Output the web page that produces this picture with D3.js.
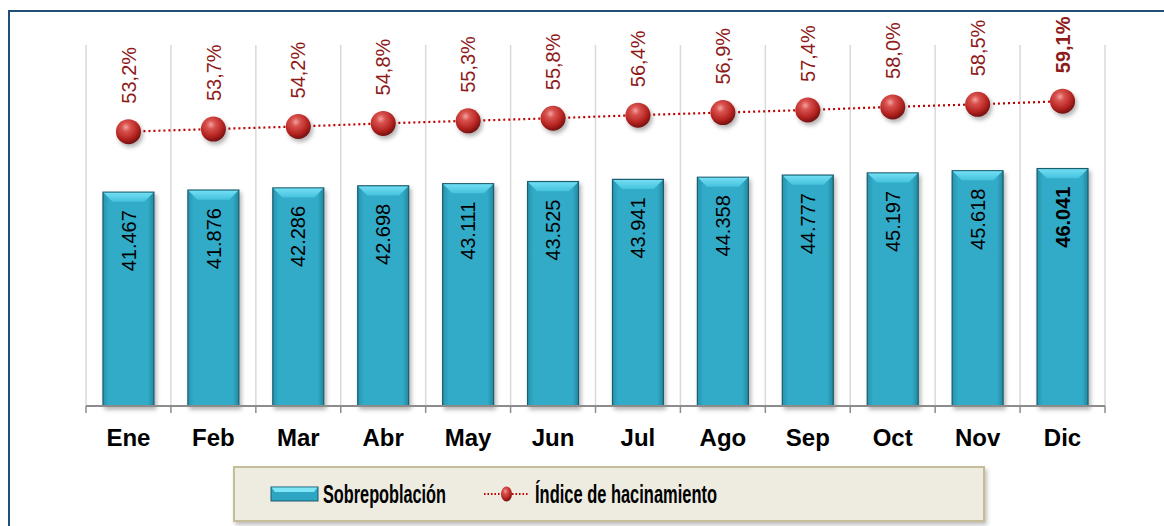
<!DOCTYPE html>
<html lang="es">
<head>
<meta charset="utf-8">
<script src="https://cdn.jsdelivr.net/npm/d3@7"></script>
<style>
  html, body { margin: 0; padding: 0; background: #ffffff; }
  svg { display: block; }
</style>
</head>
<body>
<script>
// Monthly overpopulation and crowding index
const months = ["Ene", "Feb", "Mar", "Abr", "May", "Jun", "Jul", "Ago", "Sep", "Oct", "Nov", "Dic"];
const sobrepoblacion = [41467, 41876, 42286, 42698, 43111, 43525, 43941, 44358, 44777, 45197, 45618, 46041];
const hacinamiento = [53.2, 53.7, 54.2, 54.8, 55.3, 55.8, 56.4, 56.9, 57.4, 58.0, 58.5, 59.1];
const seriesNames = ["Sobrepoblación", "Índice de hacinamiento"];

const W = 1164, H = 526;
const plot = { left: 86, right: 1105, top: 45, bottom: 406 };

const es = d3.formatLocale({ decimal: ",", thousands: ".", grouping: [3], currency: ["", "€"] });
const fmtInt = es.format(",d");
const fmtPct = v => es.format(".1f")(v) + "%";

const svg = d3.select("body").append("svg").attr("width", W).attr("height", H);
const defs = svg.append("defs");

// Bar gradients (bevelled cyan bars)
const bodyGrad = defs.append("linearGradient").attr("id", "barBody").attr("x1", 0).attr("x2", 1).attr("y1", 0).attr("y2", 0);
bodyGrad.append("stop").attr("offset", "0%").attr("stop-color", "#2894ae");
bodyGrad.append("stop").attr("offset", "12%").attr("stop-color", "#31abc8");
bodyGrad.append("stop").attr("offset", "88%").attr("stop-color", "#31abc8");
bodyGrad.append("stop").attr("offset", "100%").attr("stop-color", "#23889f");

const topGrad = defs.append("linearGradient").attr("id", "barTop").attr("x1", 0).attr("x2", 0).attr("y1", 0).attr("y2", 1);
topGrad.append("stop").attr("offset", "0%").attr("stop-color", "#72def3");
topGrad.append("stop").attr("offset", "100%").attr("stop-color", "#45c2dd");

// Sphere marker gradient
const sphere = defs.append("radialGradient").attr("id", "sphere").attr("cx", "40%").attr("cy", "32%").attr("r", "70%");
sphere.append("stop").attr("offset", "0%").attr("stop-color", "#f3a3a0");
sphere.append("stop").attr("offset", "25%").attr("stop-color", "#d9534f");
sphere.append("stop").attr("offset", "70%").attr("stop-color", "#b3221f");
sphere.append("stop").attr("offset", "100%").attr("stop-color", "#6e1010");

const shadow = defs.append("filter").attr("id", "shadow").attr("x", "-30%").attr("y", "-30%").attr("width", "170%").attr("height", "170%");
shadow.append("feDropShadow").attr("dx", 2).attr("dy", 3).attr("stdDeviation", 2).attr("flood-color", "#000").attr("flood-opacity", 0.3);

const legendShadow = defs.append("filter").attr("id", "legendShadow").attr("x", "-5%").attr("y", "-20%").attr("width", "110%").attr("height", "150%");
legendShadow.append("feDropShadow").attr("dx", 2).attr("dy", 3).attr("stdDeviation", 2).attr("flood-color", "#000").attr("flood-opacity", 0.25);

// Outer frame
svg.append("rect").attr("x", 9).attr("y", 11).attr("width", W + 20).attr("height", H + 20)
  .attr("fill", "none").attr("stroke", "#1f4e79").attr("stroke-width", 2);

// Scales
const x = d3.scaleBand().domain(months).range([plot.left, plot.right]).padding(0);
const step = x.step();
const yBar = d3.scaleLinear().domain([0, 70000]).range([plot.bottom, plot.top]);
const yPct = d3.scaleLinear().domain([0, 70]).range([plot.bottom, plot.top]);

// Vertical gridlines at category boundaries
const bounds = months.map(m => x(m)).concat([plot.right]);
svg.append("g").selectAll("line").data(bounds).join("line")
  .attr("x1", d => d).attr("x2", d => d)
  .attr("y1", plot.top).attr("y2", plot.bottom)
  .attr("stroke", "#d9d9d9").attr("stroke-width", 1.5);

// Bars
const barW = step * 0.6;
const barX = m => x(m) + step * 0.2;
const bev = 9;
const bars = svg.append("g").selectAll("g").data(months).join("g").attr("filter", "url(#shadow)");
bars.append("rect")
  .attr("x", m => barX(m)).attr("y", (m, i) => yBar(sobrepoblacion[i]))
  .attr("width", barW).attr("height", (m, i) => plot.bottom - yBar(sobrepoblacion[i]))
  .attr("fill", "url(#barBody)").attr("stroke", "#1b5b6d").attr("stroke-width", 1.2);
bars.append("path")
  .attr("d", (m, i) => {
    const x0 = barX(m) + 0.6, x1 = barX(m) + barW - 0.6, y0 = yBar(sobrepoblacion[i]) + 0.6;
    return `M${x0},${y0}L${x1},${y0}L${x1 - bev},${y0 + bev}L${x0 + bev},${y0 + bev}Z`;
  })
  .attr("fill", "url(#barTop)");

// Axis
const axis = svg.append("g").attr("transform", `translate(0,${plot.bottom})`);
axis.append("line").attr("x1", plot.left).attr("x2", plot.right).attr("stroke", "#8c8c8c").attr("stroke-width", 2);
axis.selectAll("line.tick").data(bounds).join("line").attr("class", "tick")
  .attr("x1", d => d).attr("x2", d => d).attr("y1", 0).attr("y2", 7)
  .attr("stroke", "#8c8c8c").attr("stroke-width", 1.5);
axis.selectAll("text").data(months).join("text")
  .attr("x", m => x(m) + step / 2).attr("y", 40)
  .attr("text-anchor", "middle")
  .attr("font-family", "Arial, 'Liberation Sans', sans-serif")
  .attr("font-weight", "bold").attr("font-size", 24).attr("fill", "#000")
  .text(m => m);

// Bar value labels (rotated)
svg.append("g").selectAll("text").data(months).join("text")
  .attr("transform", (m, i) => `translate(${x(m) + step / 2},${yBar(sobrepoblacion[i]) + 18}) rotate(-90)`)
  .attr("text-anchor", "end").attr("dy", "0.36em")
  .attr("font-family", "Arial, 'Liberation Sans', sans-serif")
  .attr("font-size", 20).attr("fill", "#000")
  .attr("font-weight", (m, i) => i === months.length - 1 ? "bold" : "normal")
  .text((m, i) => fmtInt(sobrepoblacion[i]));

// Crowding index line
const line = d3.line().x((d, i) => x(months[i]) + step / 2).y(d => yPct(d));
svg.append("path").datum(hacinamiento).attr("d", line)
  .attr("fill", "none").attr("stroke", "#c00000").attr("stroke-width", 2.2)
  .attr("stroke-dasharray", "2,3");

svg.append("g").selectAll("circle").data(hacinamiento).join("circle")
  .attr("cx", (d, i) => x(months[i]) + step / 2).attr("cy", d => yPct(d))
  .attr("r", 12.5).attr("fill", "url(#sphere)").attr("filter", "url(#shadow)");

// Percentage labels (rotated)
svg.append("g").selectAll("text").data(hacinamiento).join("text")
  .attr("transform", (d, i) => `translate(${x(months[i]) + step / 2},${yPct(d) - 28}) rotate(-90)`)
  .attr("text-anchor", "start").attr("dy", "0.36em")
  .attr("font-family", "Arial, 'Liberation Sans', sans-serif")
  .attr("font-size", 20).attr("fill", "#8e1a1a")
  .attr("font-weight", (d, i) => i === hacinamiento.length - 1 ? "bold" : "normal")
  .text(d => fmtPct(d));

// Legend
const lg = svg.append("g");
lg.append("rect").attr("x", 234).attr("y", 467).attr("width", 750).attr("height", 54)
  .attr("fill", "#eeece1").attr("stroke", "#c4bd97").attr("stroke-width", 2)
  .attr("filter", "url(#legendShadow)");

// Bar swatch
const sw = { x: 271, y: 487, w: 47, h: 14 };
lg.append("rect").attr("x", sw.x).attr("y", sw.y).attr("width", sw.w).attr("height", sw.h)
  .attr("fill", "#2ea6c3").attr("stroke", "#1b5b6d").attr("stroke-width", 1);
lg.append("path")
  .attr("d", `M${sw.x + 0.5},${sw.y + 0.5}L${sw.x + sw.w - 0.5},${sw.y + 0.5}L${sw.x + sw.w - 4},${sw.y + 5}L${sw.x + 4},${sw.y + 5}Z`)
  .attr("fill", "#7fe6f7");
lg.append("text").attr("x", 323).attr("y", 503)
  .attr("font-family", "'Liberation Sans Narrow', 'Arial Narrow', Arial, sans-serif")
  .attr("font-weight", "bold").attr("font-size", 25).attr("fill", "#000")
  .attr("textLength", 123).attr("lengthAdjust", "spacingAndGlyphs")
  .text(seriesNames[0]);

// Line swatch
lg.append("line").attr("x1", 484).attr("x2", 529).attr("y1", 494).attr("y2", 494)
  .attr("stroke", "#c00000").attr("stroke-width", 2).attr("stroke-dasharray", "1.5,2");
lg.append("ellipse").attr("cx", 506.5).attr("cy", 494).attr("rx", 5.5).attr("ry", 7.5)
  .attr("fill", "url(#sphere)");
lg.append("text").attr("x", 535).attr("y", 503)
  .attr("font-family", "'Liberation Sans Narrow', 'Arial Narrow', Arial, sans-serif")
  .attr("font-weight", "bold").attr("font-size", 25).attr("fill", "#000")
  .attr("textLength", 182).attr("lengthAdjust", "spacingAndGlyphs")
  .text(seriesNames[1]);
</script>
</body>
</html>
